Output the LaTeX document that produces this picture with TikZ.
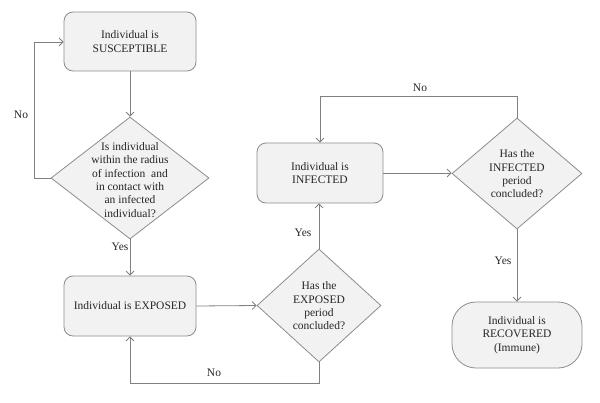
\documentclass[tikz,border=0pt]{standalone}
\usepackage{fontspec}
\setmainfont{Liberation Serif}
\usetikzlibrary{shapes.geometric,arrows.meta}
\definecolor{boxfill}{HTML}{F2F2F2}
\definecolor{edgegray}{HTML}{8C8C8C}
\definecolor{linegray}{HTML}{808080}
\definecolor{txt}{HTML}{262626}
\begin{document}
\begin{tikzpicture}[x=1pt,y=-1pt,
  every node/.style={font=\fontsize{11.5}{13.3}\selectfont, text=txt},
  procbox/.style={draw=edgegray, fill=boxfill, rounded corners=9pt, line width=0.8pt, align=center, inner sep=0pt},
  endbox/.style={draw=edgegray, fill=boxfill, rounded corners=24pt, line width=0.8pt, align=center, inner sep=0pt},
  decision/.style={draw=edgegray, fill=boxfill, diamond, line width=0.8pt, inner sep=0pt},
  dtext/.style={align=center, inner sep=0pt},
  flow/.style={draw=linegray, line width=0.8pt, -{Straight Barb[length=4pt,width=8pt]}},
  lbl/.style={inner sep=0pt}
]
\useasboundingbox (0,0) rectangle (600,402);
% boxes
\node[procbox, minimum width=132pt, minimum height=59pt] (sus) at (130,41.5) {Individual is\\SUSCEPTIBLE};
\node[procbox, minimum width=132pt, minimum height=60pt] (exp) at (130,306) {Individual is EXPOSED};
\node[procbox, minimum width=126pt, minimum height=60pt] (inf) at (320,173) {Individual is\\INFECTED};
\node[endbox, minimum width=130pt, minimum height=66pt] (rec) at (517,335) {Individual is\\RECOVERED\\(Immune)};
% decisions
\node[decision, minimum width=158pt, minimum height=122pt] (d1) at (130,178) {};
\node[dtext] (d1t) at (130,180) {Is individual\\within the radius\\of infection\ \ and\\in contact with\\an infected\\individual?};
\node[decision, minimum width=124pt, minimum height=113pt] (d2) at (319,305.5) {};
\node[dtext] (d2t) at (319,306) {Has the\\EXPOSED\\period\\concluded?};
\node[decision, minimum width=130pt, minimum height=111pt] (d3) at (517,173.5) {};
\node[dtext] (d3t) at (517,174) {Has the\\INFECTED\\period\\concluded?};
% corner coordinates
\coordinate (c1) at (34,178);
\coordinate (c2) at (34,42);
\coordinate (c3) at (319,383);
\coordinate (c4) at (130,383);
\coordinate (c5) at (517,96);
\coordinate (c6) at (320,96);
% connectors
\draw[flow] (sus.south) -- (d1.north);
\draw[flow] (d1.west) -- (c1) -- (c2) -- (sus.west |- c2);
\draw[flow] (d1.south) -- (exp.north);
\draw[flow] (exp.east) -- (d2.west);
\draw[flow] (d2.south) -- (c3) -- (c4) -- (exp.south);
\draw[flow] (d2.north) -- (inf.south -| d2.north);
\draw[flow] (inf.east) -- (d3.west |- inf.east);
\draw[flow] (d3.north) -- (c5) -- (c6) -- (inf.north);
\draw[flow] (d3.south) -- (rec.north);
% labels
\node[lbl] (l1) at (21,115) {No};
\node[lbl] (l2) at (120,247) {Yes};
\node[lbl] (l3) at (214,373) {No};
\node[lbl] (l4) at (303,233) {Yes};
\node[lbl] (l5) at (420,88) {No};
\node[lbl] (l6) at (503,261) {Yes};
\end{tikzpicture}
\end{document}
